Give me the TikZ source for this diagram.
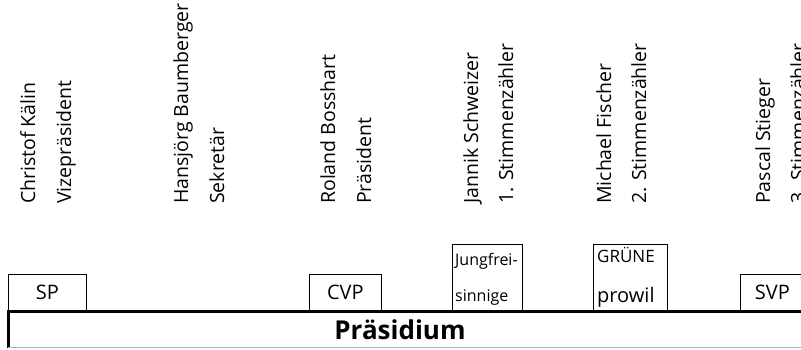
\documentclass[tikz,border=0pt]{standalone}
\usepackage{fontspec}
\setmainfont{Open Sans}
\tikzset{
  role/.style={rotate=90, anchor=base west, inner sep=0pt, font=\fontsize{19.5}{26}\selectfont},
  party/.style={draw, anchor=south west, inner sep=0pt, line width=0.8pt,
    minimum height=36pt, font=\fontsize{20}{24}\selectfont},
  tallparty/.style={party, minimum height=66pt},
  partytext/.style={anchor=base west, inner sep=0pt},
}
\begin{document}
\begin{tikzpicture}[x=1pt, y=-1pt]
  \useasboundingbox (0,0) rectangle (801,349);
  \node[role] (kaelin) at (35,204) {Christof Kälin};
  \node[role] (kaelinrole) at (71,204) {Vizepräsident};
  \node[role] (baumberger) at (188,204) {Hansjörg Baumberger};
  \node[role] (baumbergerrole) at (224,204) {Sekretär};
  \node[role] (bosshart) at (335,204) {Roland Bosshart};
  \node[role] (bosshartrole) at (371,204) {Präsident};
  \node[role] (schweizer) at (478,204) {Jannik Schweizer};
  \node[role] (schweizerrole) at (513,204) {1. Stimmenzähler};
  \node[role] (fischer) at (611,204) {Michael Fischer};
  \node[role] (fischerrole) at (646,204) {2. Stimmenzähler};
  \node[role] (stieger) at (770,204) {Pascal Stieger};
  \node[role] (stiegerrole) at (805,204) {3. Stimmenzähler};
  \node[party, minimum width=78pt] (sp) at (8,311) {SP};
  \node[party, minimum width=72pt] (cvp) at (309,311) {CVP};
  \node[tallparty, minimum width=70pt] (jfbox) at (452,311) {};
  \node[partytext, font=\fontsize{16}{20}\selectfont] (jf1) at (455,265) {Jungfrei-};
  \node[partytext, font=\fontsize{16}{20}\selectfont] (jf2) at (455,301) {sinnige};
  \node[tallparty, minimum width=74pt] (gruenebox) at (593,311) {};
  \node[partytext, font=\fontsize{17}{20}\selectfont] (gruene) at (597,262) {GRÜNE};
  \node[partytext, font=\fontsize{20}{24}\selectfont] (prowil) at (597,302) {prowil};
  \node[party, minimum width=64pt] (svp) at (740,311) {SVP};
  \draw[line width=3pt] (8,348) |- (803,311);
  \draw[gray!60, line width=1pt] (8,347.5) -- (801,347.5);
  \node[font=\fontsize{26}{30}\selectfont\bfseries] (praesidium) at (400,330) {Präsidium};
\end{tikzpicture}
\end{document}
